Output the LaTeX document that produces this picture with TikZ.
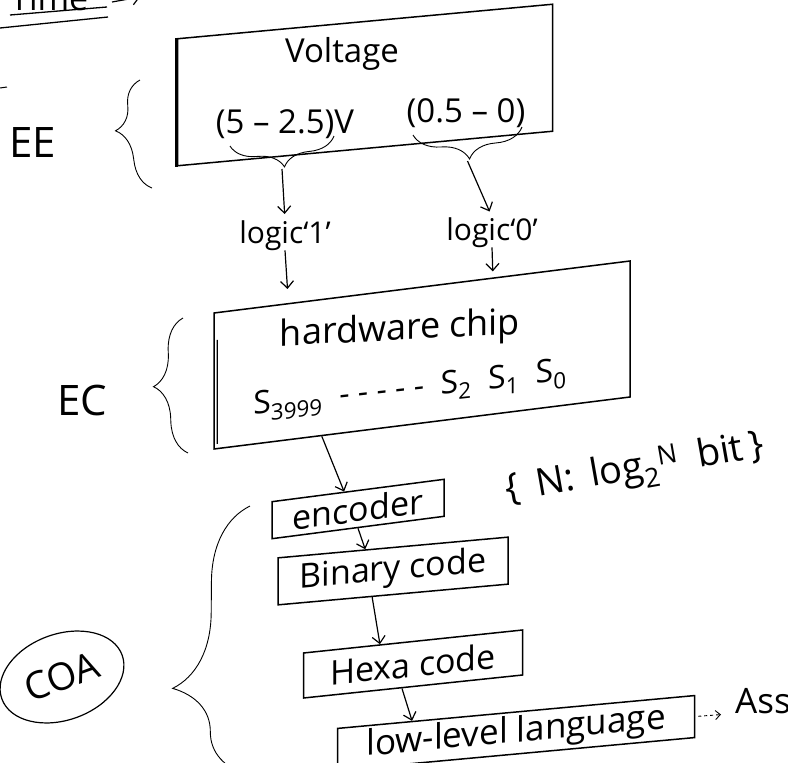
\documentclass[tikz,border=0pt]{standalone}
\usepackage{fontspec}
\setmainfont{Open Sans}
\usetikzlibrary{positioning,calc,arrows.meta,decorations.pathreplacing,shapes.geometric}

\begin{document}
\begin{tikzpicture}[x=1pt,y=-1pt]
	\tikzset{
		hand/.style={inner sep=0pt,font=\fontsize{#1}{#1}\selectfont},
		slab/.style={draw,line width=1.5pt,inner sep=0pt},
		down/.style={line width=1.2pt,-{Straight Barb[length=7pt,width=13pt]}},
		curl/.style={decorate,decoration={brace,amplitude=#1},line width=0.9pt}
	}
	\useasboundingbox (0,0) rectangle (788,763);
	\clip (0,0) rectangle (788,763);

	\node[hand=34,anchor=base west] (time) at (10,10) {Time};
	\draw[line width=1.3pt] (10,15) -- (107,7);
	\draw[line width=1.3pt] (0,28) -- (108,17);
	\coordinate (tA) at (112,2);
	\coordinate (tB) at (140,-3);
	\draw[down] (tA) -- (tB);
	\coordinate (dashA) at (0,88);
	\coordinate (dashB) at (7,87);
	\draw[line width=1pt] (dashA) -- (dashB);

	\node[slab,yslant=0.092,minimum width=375,minimum height=127] (vbox) at (365,85) {};
	\draw[line width=2.6pt] (vbox.north west) -- (vbox.south west);
	\node[hand=33,anchor=base] (volt) at (342,62) {Voltage};
	\node[hand=33,anchor=base] (hi) at (285,133) {(5 -- 2.5)V};
	\node[hand=33,anchor=base] (lo) at (466,122) {(0.5 -- 0)};

	\coordinate (hiL) at (230,146);
	\coordinate (hiR) at (334,136);
	\draw[curl=26pt,decoration={mirror}] (hiL) -- (hiR);
	\coordinate (hiTip) at ($(hiL)!.5!(hiR)+(0,28)$);
	\coordinate (loL) at (413,135);
	\coordinate (loR) at (522,127);
	\draw[curl=28pt,decoration={mirror}] (loL) -- (loR);
	\coordinate (loTip) at ($(loL)!.5!(loR)+(0,30)$);

	\node[hand=30,anchor=base] (l1) at (285,243) {logic`1'};
	\node[hand=30,anchor=base] (l0) at (492,240) {logic`0'};
	\draw[down,shorten >=6pt] (hiTip) -- (l1.north);
	\draw[down,shorten >=6pt] (loTip) -- (l0.north);

	\node[slab,yslant=0.125,minimum width=416,minimum height=136] (chip) at (422,355) {};
	\draw[line width=1.2pt] ($(chip.north west)!.2!(chip.south west)+(4,0)$) -- ($(chip.south west)+(4,-6)$);
	\node[hand=36,anchor=base,yslant=0.05] (hw) at (400,340) {hardware chip};
	\node[hand=32,yslant=0.11] (bits) at (410,390) {S\textsubscript{3999} \ - - - - - \ S\textsubscript{2} \ S\textsubscript{1} \ S\textsubscript{0}};
	\draw[down,shorten >=14pt] (l1.south) -- ($(chip.north west)!.18!(chip.north east)$);
	\draw[down,shorten >=6pt] (l0.south) -- ($(chip.north west)!.67!(chip.north east)$);

	\node[hand=38,rotate=10] (nbits) at (635,470) {\{ \,N:\, log\textsubscript{2}\textsuperscript{N}\enspace bit\,\}};

	\node[hand=42] (ee) at (33,143) {EE};
	\coordinate (eeB) at (152,188);
	\coordinate (eeT) at (140,80);
	\draw[curl=30pt,decoration={aspect=0.56}] (eeB) -- (eeT);
	\node[hand=42] (ec) at (82,400) {EC};
	\coordinate (ecB) at (188,453);
	\coordinate (ecT) at (183,318);
	\draw[curl=32pt] (ecB) -- (ecT);

	\node[slab,yslant=0.13,minimum width=172,minimum height=37,hand=34] (enc) at (358,509) {encoder};
	\draw[down] ($(chip.south west)!.26!(chip.south east)$) -- ($(enc.north west)!.42!(enc.north east)$);
	\node[slab,yslant=0.09,minimum width=230,minimum height=47,hand=34] (bin) at (393,571) {Binary code};
	\draw[down] (enc.south) -- ($(bin.north west)!.38!(bin.north east)$);
	\node[slab,yslant=0.105,minimum width=219,minimum height=45,hand=34] (hex) at (413,664) {Hexa code};
	\draw[down] ($(bin.south west)!.41!(bin.south east)$) -- ($(hex.north west)!.35!(hex.north east)$);
	\node[slab,yslant=0.092,minimum width=357,minimum height=42,hand=35] (low) at (516,733) {low-level language};
	\draw[down] ($(hex.south west)!.45!(hex.south east)$) -- ($(low.north west)!.21!(low.north east)$);
	\node[hand=35,anchor=base west] (ass) at (735,713) {Ass};
	\draw[line width=0.9pt,dashed,-{Straight Barb[length=5pt,width=9pt]},shorten <=3pt,shorten >=14pt] (low.east) -- (ass.south west);

	\node[draw,line width=1.2pt,ellipse,minimum width=128,minimum height=86,rotate=20,hand=38] (coa) at (62,677) {COA};
	\coordinate (coaB) at (248,775);
	\coordinate (coaT) at (250,506);
	\draw[curl=76pt,decoration={aspect=0.32}] (coaB) -- (coaT);
\end{tikzpicture}
\end{document}
